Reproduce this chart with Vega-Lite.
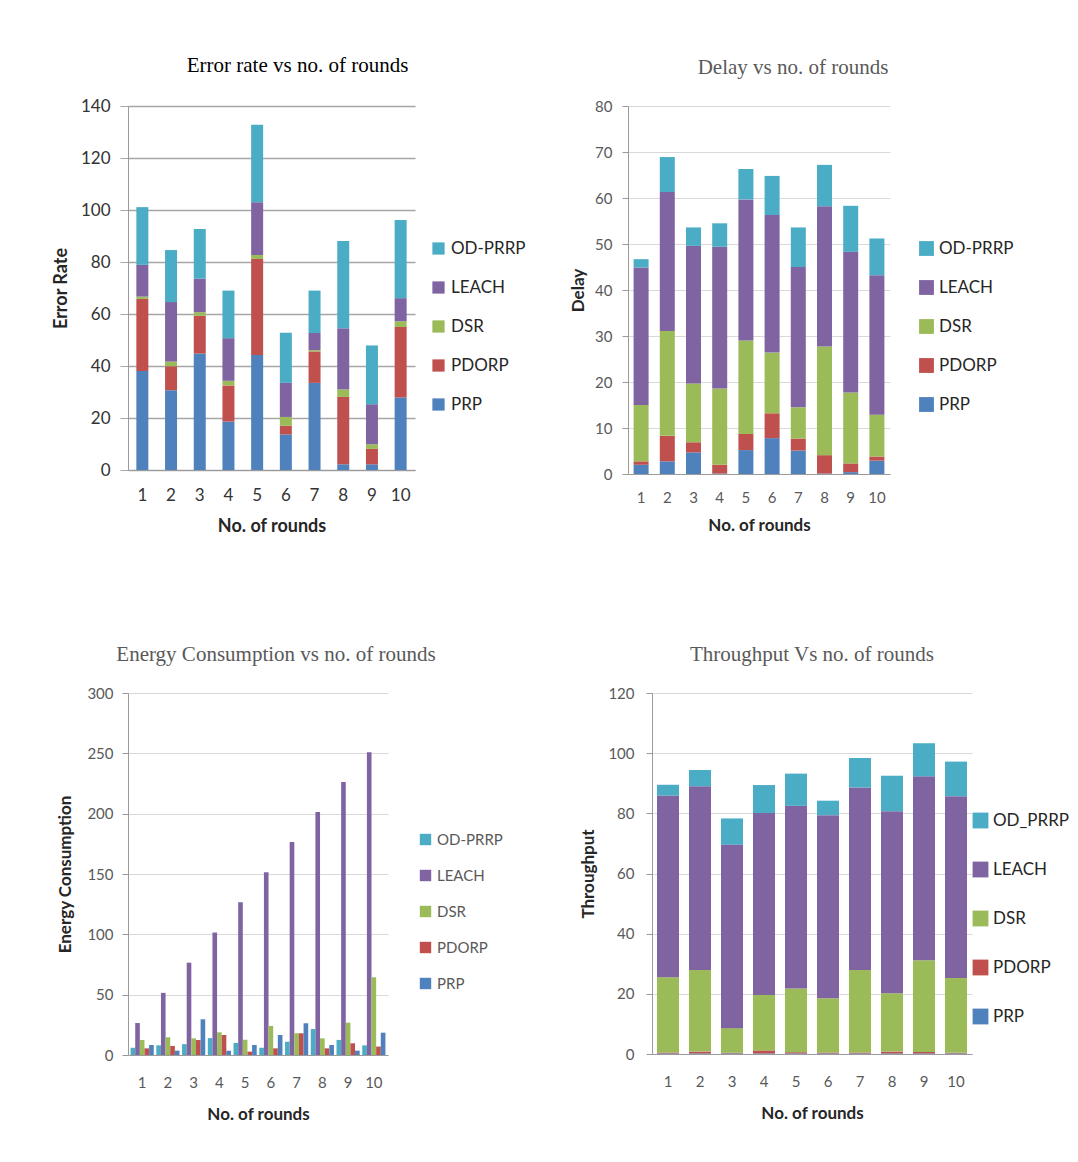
{
  "$schema": "https://vega.github.io/schema/vega-lite/v6.json",
  "background": "white",
  "padding": {"left": 52, "top": 55, "right": 0, "bottom": 0},
  "config": {
    "view": {"stroke": null},
    "font": "Lato",
    "axis": {"labelFont": "Lato", "titleFont": "Lato", "labelFontSize": 15, "titleFontSize": 17, "titleFontWeight": "bold", "labelColor": "#595959", "titleColor": "#262626", "domainColor": "#9a9a9a", "tickColor": "#9a9a9a", "gridColor": "#d9d9d9"},
    "axisX": {"labelAngle": 0, "ticks": false, "grid": false, "labelPadding": 18, "titlePadding": 14},
    "legend": {"labelFont": "Lato", "labelFontSize": 17, "labelColor": "#262626", "symbolType": "square", "symbolSize": 150, "symbolStrokeWidth": 0},
    "title": {"font": "Liberation Serif", "fontSize": 21, "fontWeight": "normal", "color": "#595959", "offset": 21, "frame": "group"}
  },
  "datasets": {
    "err": [
      {"round": 1, "series": "PRP", "value": 38.1}, {"round": 1, "series": "PDORP", "value": 27.7}, {"round": 1, "series": "DSR", "value": 0.9}, {"round": 1, "series": "LEACH", "value": 12.2}, {"round": 1, "series": "OD-PRRP", "value": 22.2},
      {"round": 2, "series": "PRP", "value": 30.7}, {"round": 2, "series": "PDORP", "value": 9.2}, {"round": 2, "series": "DSR", "value": 1.8}, {"round": 2, "series": "LEACH", "value": 22.9}, {"round": 2, "series": "OD-PRRP", "value": 20.0},
      {"round": 3, "series": "PRP", "value": 44.8}, {"round": 3, "series": "PDORP", "value": 14.5}, {"round": 3, "series": "DSR", "value": 1.4}, {"round": 3, "series": "LEACH", "value": 12.9}, {"round": 3, "series": "OD-PRRP", "value": 19.1},
      {"round": 4, "series": "PRP", "value": 18.6}, {"round": 4, "series": "PDORP", "value": 13.9}, {"round": 4, "series": "DSR", "value": 1.8}, {"round": 4, "series": "LEACH", "value": 16.4}, {"round": 4, "series": "OD-PRRP", "value": 18.3},
      {"round": 5, "series": "PRP", "value": 44.2}, {"round": 5, "series": "PDORP", "value": 37.0}, {"round": 5, "series": "DSR", "value": 1.5}, {"round": 5, "series": "LEACH", "value": 20.3}, {"round": 5, "series": "OD-PRRP", "value": 29.8},
      {"round": 6, "series": "PRP", "value": 13.7}, {"round": 6, "series": "PDORP", "value": 3.3}, {"round": 6, "series": "DSR", "value": 3.4}, {"round": 6, "series": "LEACH", "value": 13.1}, {"round": 6, "series": "OD-PRRP", "value": 19.3},
      {"round": 7, "series": "PRP", "value": 33.5}, {"round": 7, "series": "PDORP", "value": 12.1}, {"round": 7, "series": "DSR", "value": 0.5}, {"round": 7, "series": "LEACH", "value": 6.6}, {"round": 7, "series": "OD-PRRP", "value": 16.3},
      {"round": 8, "series": "PRP", "value": 2.2}, {"round": 8, "series": "PDORP", "value": 25.9}, {"round": 8, "series": "DSR", "value": 2.9}, {"round": 8, "series": "LEACH", "value": 23.5}, {"round": 8, "series": "OD-PRRP", "value": 33.6},
      {"round": 9, "series": "PRP", "value": 2.2}, {"round": 9, "series": "PDORP", "value": 5.9}, {"round": 9, "series": "DSR", "value": 1.8}, {"round": 9, "series": "LEACH", "value": 15.4}, {"round": 9, "series": "OD-PRRP", "value": 22.6},
      {"round": 10, "series": "PRP", "value": 27.9}, {"round": 10, "series": "PDORP", "value": 27.1}, {"round": 10, "series": "DSR", "value": 2.2}, {"round": 10, "series": "LEACH", "value": 8.9}, {"round": 10, "series": "OD-PRRP", "value": 30.1}
    ],
    "delay": [
      {"round": 1, "series": "PRP", "value": 2.0}, {"round": 1, "series": "PDORP", "value": 0.75}, {"round": 1, "series": "DSR", "value": 12.25}, {"round": 1, "series": "LEACH", "value": 29.9}, {"round": 1, "series": "OD-PRRP", "value": 1.8},
      {"round": 2, "series": "PRP", "value": 2.75}, {"round": 2, "series": "PDORP", "value": 5.55}, {"round": 2, "series": "DSR", "value": 22.8}, {"round": 2, "series": "LEACH", "value": 30.2}, {"round": 2, "series": "OD-PRRP", "value": 7.6},
      {"round": 3, "series": "PRP", "value": 4.7}, {"round": 3, "series": "PDORP", "value": 2.2}, {"round": 3, "series": "DSR", "value": 12.8}, {"round": 3, "series": "LEACH", "value": 29.9}, {"round": 3, "series": "OD-PRRP", "value": 4.0},
      {"round": 4, "series": "PRP", "value": 0.1}, {"round": 4, "series": "PDORP", "value": 1.9}, {"round": 4, "series": "DSR", "value": 16.6}, {"round": 4, "series": "LEACH", "value": 30.8}, {"round": 4, "series": "OD-PRRP", "value": 5.1},
      {"round": 5, "series": "PRP", "value": 5.2}, {"round": 5, "series": "PDORP", "value": 3.5}, {"round": 5, "series": "DSR", "value": 20.3}, {"round": 5, "series": "LEACH", "value": 30.7}, {"round": 5, "series": "OD-PRRP", "value": 6.6},
      {"round": 6, "series": "PRP", "value": 7.8}, {"round": 6, "series": "PDORP", "value": 5.4}, {"round": 6, "series": "DSR", "value": 13.2}, {"round": 6, "series": "LEACH", "value": 29.9}, {"round": 6, "series": "OD-PRRP", "value": 8.5},
      {"round": 7, "series": "PRP", "value": 5.1}, {"round": 7, "series": "PDORP", "value": 2.6}, {"round": 7, "series": "DSR", "value": 6.8}, {"round": 7, "series": "LEACH", "value": 30.5}, {"round": 7, "series": "OD-PRRP", "value": 8.6},
      {"round": 8, "series": "PRP", "value": 0.1}, {"round": 8, "series": "PDORP", "value": 4.0}, {"round": 8, "series": "DSR", "value": 23.6}, {"round": 8, "series": "LEACH", "value": 30.5}, {"round": 8, "series": "OD-PRRP", "value": 9.0},
      {"round": 9, "series": "PRP", "value": 0.4}, {"round": 9, "series": "PDORP", "value": 1.9}, {"round": 9, "series": "DSR", "value": 15.4}, {"round": 9, "series": "LEACH", "value": 30.6}, {"round": 9, "series": "OD-PRRP", "value": 10.0},
      {"round": 10, "series": "PRP", "value": 2.9}, {"round": 10, "series": "PDORP", "value": 0.9}, {"round": 10, "series": "DSR", "value": 9.1}, {"round": 10, "series": "LEACH", "value": 30.3}, {"round": 10, "series": "OD-PRRP", "value": 8.0}
    ],
    "energy": [
      {"round": 1, "series": "OD-PRRP", "value": 6}, {"round": 1, "series": "LEACH", "value": 26.5}, {"round": 1, "series": "DSR", "value": 12.4}, {"round": 1, "series": "PDORP", "value": 5.5}, {"round": 1, "series": "PRP", "value": 8.3},
      {"round": 2, "series": "OD-PRRP", "value": 8}, {"round": 2, "series": "LEACH", "value": 51.5}, {"round": 2, "series": "DSR", "value": 14.7}, {"round": 2, "series": "PDORP", "value": 7.5}, {"round": 2, "series": "PRP", "value": 3.6},
      {"round": 3, "series": "OD-PRRP", "value": 9}, {"round": 3, "series": "LEACH", "value": 76.5}, {"round": 3, "series": "DSR", "value": 13.8}, {"round": 3, "series": "PDORP", "value": 12.4}, {"round": 3, "series": "PRP", "value": 29.6},
      {"round": 4, "series": "OD-PRRP", "value": 14}, {"round": 4, "series": "LEACH", "value": 101.5}, {"round": 4, "series": "DSR", "value": 18.8}, {"round": 4, "series": "PDORP", "value": 16.6}, {"round": 4, "series": "PRP", "value": 3.6},
      {"round": 5, "series": "OD-PRRP", "value": 10}, {"round": 5, "series": "LEACH", "value": 126.5}, {"round": 5, "series": "DSR", "value": 12.7}, {"round": 5, "series": "PDORP", "value": 2.8}, {"round": 5, "series": "PRP", "value": 8.3},
      {"round": 6, "series": "OD-PRRP", "value": 6}, {"round": 6, "series": "LEACH", "value": 151.5}, {"round": 6, "series": "DSR", "value": 24.1}, {"round": 6, "series": "PDORP", "value": 5.5}, {"round": 6, "series": "PRP", "value": 16.6},
      {"round": 7, "series": "OD-PRRP", "value": 11}, {"round": 7, "series": "LEACH", "value": 176.5}, {"round": 7, "series": "DSR", "value": 18}, {"round": 7, "series": "PDORP", "value": 18}, {"round": 7, "series": "PRP", "value": 26.3},
      {"round": 8, "series": "OD-PRRP", "value": 21.5}, {"round": 8, "series": "LEACH", "value": 201.3}, {"round": 8, "series": "DSR", "value": 13.8}, {"round": 8, "series": "PDORP", "value": 5.5}, {"round": 8, "series": "PRP", "value": 8.3},
      {"round": 9, "series": "OD-PRRP", "value": 12.5}, {"round": 9, "series": "LEACH", "value": 226.2}, {"round": 9, "series": "DSR", "value": 26.8}, {"round": 9, "series": "PDORP", "value": 9.7}, {"round": 9, "series": "PRP", "value": 3.6},
      {"round": 10, "series": "OD-PRRP", "value": 8}, {"round": 10, "series": "LEACH", "value": 251}, {"round": 10, "series": "DSR", "value": 64.4}, {"round": 10, "series": "PDORP", "value": 7}, {"round": 10, "series": "PRP", "value": 18.5}
    ],
    "thr": [
      {"round": 1, "series": "PRP", "value": 0.2}, {"round": 1, "series": "PDORP", "value": 0.3}, {"round": 1, "series": "DSR", "value": 25.0}, {"round": 1, "series": "LEACH", "value": 60.4}, {"round": 1, "series": "OD_PRRP", "value": 3.6},
      {"round": 2, "series": "PRP", "value": 0.2}, {"round": 2, "series": "PDORP", "value": 0.6}, {"round": 2, "series": "DSR", "value": 27.1}, {"round": 2, "series": "LEACH", "value": 61.1}, {"round": 2, "series": "OD_PRRP", "value": 5.4},
      {"round": 3, "series": "PRP", "value": 0.2}, {"round": 3, "series": "PDORP", "value": 0.2}, {"round": 3, "series": "DSR", "value": 8.2}, {"round": 3, "series": "LEACH", "value": 61.0}, {"round": 3, "series": "OD_PRRP", "value": 8.7},
      {"round": 4, "series": "PRP", "value": 0.2}, {"round": 4, "series": "PDORP", "value": 1.0}, {"round": 4, "series": "DSR", "value": 18.4}, {"round": 4, "series": "LEACH", "value": 60.5}, {"round": 4, "series": "OD_PRRP", "value": 9.3},
      {"round": 5, "series": "PRP", "value": 0.2}, {"round": 5, "series": "PDORP", "value": 0.4}, {"round": 5, "series": "DSR", "value": 21.2}, {"round": 5, "series": "LEACH", "value": 60.7}, {"round": 5, "series": "OD_PRRP", "value": 10.7},
      {"round": 6, "series": "PRP", "value": 0.2}, {"round": 6, "series": "PDORP", "value": 0.3}, {"round": 6, "series": "DSR", "value": 18.0}, {"round": 6, "series": "LEACH", "value": 60.9}, {"round": 6, "series": "OD_PRRP", "value": 4.8},
      {"round": 7, "series": "PRP", "value": 0.2}, {"round": 7, "series": "PDORP", "value": 0.3}, {"round": 7, "series": "DSR", "value": 27.4}, {"round": 7, "series": "LEACH", "value": 60.7}, {"round": 7, "series": "OD_PRRP", "value": 9.8},
      {"round": 8, "series": "PRP", "value": 0.2}, {"round": 8, "series": "PDORP", "value": 0.6}, {"round": 8, "series": "DSR", "value": 19.4}, {"round": 8, "series": "LEACH", "value": 60.5}, {"round": 8, "series": "OD_PRRP", "value": 11.8},
      {"round": 9, "series": "PRP", "value": 0.2}, {"round": 9, "series": "PDORP", "value": 0.5}, {"round": 9, "series": "DSR", "value": 30.5}, {"round": 9, "series": "LEACH", "value": 61.1}, {"round": 9, "series": "OD_PRRP", "value": 11.0},
      {"round": 10, "series": "PRP", "value": 0.2}, {"round": 10, "series": "PDORP", "value": 0.2}, {"round": 10, "series": "DSR", "value": 24.9}, {"round": 10, "series": "LEACH", "value": 60.4}, {"round": 10, "series": "OD_PRRP", "value": 11.5}
    ]
  },
  "resolve": {"scale": {"color": "independent"}, "legend": {"color": "independent"}},
  "spacing": 109,
  "vconcat": [
    {
      "spacing": 43,
      "resolve": {"scale": {"color": "independent"}, "legend": {"color": "independent"}},
      "hconcat": [
        {
          "data": {"name": "err"},
          "transform": [{"window": [{"op": "row_number", "as": "stackpos"}], "groupby": ["round"]}],
          "width": 287, "height": 364,
          "title": {"text": "Error rate vs no. of rounds", "color": "#000000", "dx": 26},
          "mark": {"type": "bar", "width": 12},
          "encoding": {
            "x": {"field": "round", "type": "ordinal", "title": "No. of rounds", "axis": {"labelFontSize": 17, "labelColor": "#333333", "titleFontSize": 18, "labelPadding": 17, "titlePadding": 14}},
            "y": {"field": "value", "type": "quantitative", "stack": "zero", "scale": {"domain": [0, 140]}, "title": "Error Rate",
                  "axis": {"values": [0, 20, 40, 60, 80, 100, 120, 140], "labelFontSize": 17, "labelColor": "#333333", "titleFontSize": 18, "gridColor": "#a6a6a6", "gridWidth": 1.5, "tickColor": "#a6a6a6", "tickSize": 8, "labelPadding": 10, "titlePadding": 10}},
            "order": {"field": "stackpos", "type": "quantitative", "sort": "ascending"},
            "color": {"field": "series", "type": "nominal", "sort": ["OD-PRRP", "LEACH", "DSR", "PDORP", "PRP"],
                      "scale": {"domain": ["OD-PRRP", "LEACH", "DSR", "PDORP", "PRP"], "range": ["#4bacc6", "#8064a2", "#9bbb59", "#c0504d", "#4f81bd"]},
                      "legend": {"title": null, "orient": "none", "legendX": 302, "legendY": 134, "rowPadding": 21}}
          }
        },
        {
          "data": {"name": "delay"},
          "transform": [{"window": [{"op": "row_number", "as": "stackpos"}], "groupby": ["round"]}],
          "width": 262, "height": 368,
          "title": {"text": "Delay vs no. of rounds", "dx": 34},
          "mark": {"type": "bar", "width": 15},
          "encoding": {
            "x": {"field": "round", "type": "ordinal", "title": "No. of rounds", "axis": {"labelPadding": 16, "titlePadding": 12}},
            "y": {"field": "value", "type": "quantitative", "stack": "zero", "scale": {"domain": [0, 80]}, "title": "Delay",
                  "axis": {"values": [0, 10, 20, 30, 40, 50, 60, 70, 80], "tickSize": 6, "labelPadding": 10, "titlePadding": 7}},
            "order": {"field": "stackpos", "type": "quantitative", "sort": "ascending"},
            "color": {"field": "series", "type": "nominal", "sort": ["OD-PRRP", "LEACH", "DSR", "PDORP", "PRP"],
                      "scale": {"domain": ["OD-PRRP", "LEACH", "DSR", "PDORP", "PRP"], "range": ["#4bacc6", "#8064a2", "#9bbb59", "#c0504d", "#4f81bd"]},
                      "legend": {"title": null, "orient": "none", "legendX": 290, "legendY": 134, "rowPadding": 21, "symbolSize": 220}}
          }
        }
      ]
    },
    {
      "spacing": 76,
      "resolve": {"scale": {"color": "independent"}, "legend": {"color": "independent"}},
      "hconcat": [
        {
          "data": {"name": "energy"},
          "width": 260, "height": 362,
          "title": {"text": "Energy Consumption vs no. of rounds", "dx": 18},
          "mark": {"type": "bar"},
          "encoding": {
            "x": {"field": "round", "type": "ordinal", "title": "No. of rounds", "scale": {"paddingInner": 0.1, "paddingOuter": 0.1}, "axis": {"labelPadding": 20, "titlePadding": 16}},
            "xOffset": {"field": "series", "type": "nominal", "sort": ["OD-PRRP", "LEACH", "DSR", "PDORP", "PRP"], "scale": {"paddingInner": 0}},
            "y": {"field": "value", "type": "quantitative", "scale": {"domain": [0, 300]}, "title": "Energy Consumption",
                  "axis": {"values": [0, 50, 100, 150, 200, 250, 300], "tickSize": 6, "labelPadding": 9, "titlePadding": 12}},
            "color": {"field": "series", "type": "nominal", "sort": ["OD-PRRP", "LEACH", "DSR", "PDORP", "PRP"],
                      "scale": {"domain": ["OD-PRRP", "LEACH", "DSR", "PDORP", "PRP"], "range": ["#4bacc6", "#8064a2", "#9bbb59", "#c0504d", "#4f81bd"]},
                      "legend": {"title": null, "orient": "none", "legendX": 290, "legendY": 139, "rowPadding": 20, "labelFontSize": 15, "labelColor": "#595959", "symbolSize": 130}}
          }
        },
        {
          "data": {"name": "thr"},
          "transform": [{"window": [{"op": "row_number", "as": "stackpos"}], "groupby": ["round"]}],
          "width": 320, "height": 361,
          "title": {"text": "Throughput Vs no. of rounds", "dx": 0},
          "mark": {"type": "bar", "width": 22},
          "encoding": {
            "x": {"field": "round", "type": "ordinal", "title": "No. of rounds", "axis": {"labelPadding": 20, "titlePadding": 16}},
            "y": {"field": "value", "type": "quantitative", "stack": "zero", "scale": {"domain": [0, 120]}, "title": "Throughput",
                  "axis": {"values": [0, 20, 40, 60, 80, 100, 120], "tickSize": 6, "labelPadding": 12, "titlePadding": 10}},
            "order": {"field": "stackpos", "type": "quantitative", "sort": "ascending"},
            "color": {"field": "series", "type": "nominal", "sort": ["OD_PRRP", "LEACH", "DSR", "PDORP", "PRP"],
                      "scale": {"domain": ["OD_PRRP", "LEACH", "DSR", "PDORP", "PRP"], "range": ["#4bacc6", "#8064a2", "#9bbb59", "#c0504d", "#4f81bd"]},
                      "legend": {"title": null, "orient": "none", "legendX": 320, "legendY": 119, "rowPadding": 31, "symbolSize": 250}}
          }
        }
      ]
    }
  ]
}
